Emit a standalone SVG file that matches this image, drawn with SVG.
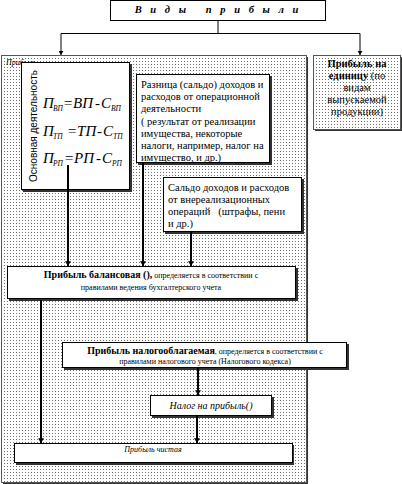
<svg xmlns="http://www.w3.org/2000/svg" width="402" height="484" viewBox="0 0 402 484">
<defs>
<pattern id="dots" width="3" height="3" patternUnits="userSpaceOnUse">
<rect width="3" height="3" fill="#ffffff"/>
<rect x="1" y="1" width="1" height="1" fill="#6e6e6e"/>
</pattern>
<marker id="ah" viewBox="0 0 8 10" refX="8" refY="5" markerWidth="4" markerHeight="5" markerUnits="userSpaceOnUse" orient="auto">
<path d="M0,0 L8,5 L0,10 z" fill="#000"/>
</marker>
<marker id="ahb" viewBox="0 0 8 10" refX="8" refY="5" markerWidth="5" markerHeight="6" markerUnits="userSpaceOnUse" orient="auto">
<path d="M0,0 L8,5 L0,10 z" fill="#000"/>
</marker>
</defs>
<style>
.box{fill:#fff;stroke:#000;stroke-width:1}
.dot{fill:url(#dots);stroke:#555;stroke-width:1}
.sh{fill:#333}
.ser{font-family:"Liberation Serif","Times New Roman",serif;fill:#000}
.t{font-size:10.5px}
.small{font-size:8px}
.b{font-weight:bold}
.it{font-style:italic}
.fm{font-family:"Liberation Serif","Times New Roman",serif;font-style:italic;font-size:15px;fill:#000}
.sub{font-size:7.5px}
.ln{stroke:#000;stroke-width:1;fill:none}
.lnb{stroke:#000;stroke-width:2;fill:none}
</style>

<g id="title">
<rect class="box" x="110.5" y="0.5" width="215" height="20"/>
<text class="ser b it" x="218" y="13" font-size="10.5" text-anchor="middle" letter-spacing="3" xml:space="preserve">В и д ы   п р и б ы л и</text>
</g>

<g id="left-panel">
<rect class="sh" x="3" y="57" width="305" height="427"/>
<rect class="dot" x="1.5" y="55.5" width="305" height="427"/>
<text class="ser it" x="6" y="65" font-size="8">Прибыль</text>
</g>

<g id="right-panel">
<rect class="sh" x="315" y="57" width="87" height="74"/>
<rect class="dot" x="313.5" y="55.5" width="87" height="74"/>
<text class="ser t" x="357" y="67" text-anchor="middle"><tspan class="b">Прибыль на</tspan></text>
<text class="ser t" x="357" y="79" text-anchor="middle"><tspan class="b">единицу</tspan> (по</text>
<text class="ser t" x="357" y="91" text-anchor="middle">видам</text>
<text class="ser t" x="357" y="103" text-anchor="middle">выпускаемой</text>
<text class="ser t" x="357" y="115" text-anchor="middle">продукции)</text>
</g>

<g id="main-activity">
<rect class="sh" x="23" y="64" width="109" height="128"/>
<rect class="box" x="21.5" y="62.5" width="108" height="127"/>
<text font-family="Liberation Sans, Arial, sans-serif" font-size="10.5" textLength="112" lengthAdjust="spacingAndGlyphs" transform="translate(37,182) rotate(-90)">Основная деятельность</text>
<text class="fm"><tspan x="43" y="108">П</tspan><tspan class="sub" x="53" y="111">ВП</tspan><tspan x="63" y="108">=ВП</tspan><tspan x="95" y="108">-</tspan><tspan x="101" y="108">С</tspan><tspan class="sub" x="111" y="111">ВП</tspan></text>
<text class="fm"><tspan x="43" y="136">П</tspan><tspan class="sub" x="53" y="139">ТП</tspan><tspan x="67" y="136">=ТП</tspan><tspan x="97" y="136">-</tspan><tspan x="103" y="136">С</tspan><tspan class="sub" x="113" y="139">ТП</tspan></text>
<text class="fm"><tspan x="43" y="163">П</tspan><tspan class="sub" x="53" y="166">РП</tspan><tspan x="64" y="163">=РП</tspan><tspan x="96" y="163">-</tspan><tspan x="102" y="163">С</tspan><tspan class="sub" x="112" y="166">РП</tspan></text>
</g>

<g id="operational">
<rect class="sh" x="138" y="76" width="134" height="89"/>
<rect class="box" x="136.5" y="74.5" width="133" height="88"/>
<text class="ser t" x="141" y="88">Разница (сальдо) доходов и</text>
<text class="ser t" x="141" y="100">расходов от операционной</text>
<text class="ser t" x="141" y="112">деятельности</text>
<text class="ser t" x="141" y="125">( результат от реализации</text>
<text class="ser t" x="141" y="137">имущества, некоторые</text>
<text class="ser t" x="141" y="149">налоги, например, налог на</text>
<text class="ser t" x="141" y="161">имущество, и др.)</text>
</g>

<g id="nonoperational">
<rect class="sh" x="165" y="179" width="139" height="55"/>
<rect class="box" x="163.5" y="177.5" width="138" height="54"/>
<text class="ser t" x="168" y="191">Сальдо доходов и расходов</text>
<text class="ser t" x="168" y="203">от внереализационных</text>
<text class="ser t" x="168" y="215" xml:space="preserve">операций   (штрафы, пени</text>
<text class="ser t" x="168" y="227">и др.)</text>
</g>

<g id="balance-profit">
<rect class="sh" x="9" y="268" width="289" height="33"/>
<rect class="box" x="7.5" y="266.5" width="288" height="32"/>
<text class="ser" x="151" y="278" text-anchor="middle"><tspan class="b" font-size="10">Прибыль балансовая (),</tspan><tspan font-size="8"> определяется в соответствии с</tspan></text>
<text class="ser small" x="151" y="290" text-anchor="middle">правилами ведения бухгалтерского учета</text>
</g>

<g id="taxable-profit">
<rect class="sh" x="64" y="344" width="285" height="26"/>
<rect class="box" x="62.5" y="342.5" width="284" height="25"/>
<text class="ser" x="205" y="354" text-anchor="middle"><tspan class="b" font-size="10">Прибыль налогооблагаемая</tspan><tspan font-size="8">, определяется в соответствии с</tspan></text>
<text class="ser small" x="205" y="364" text-anchor="middle">правилами налогового учета (Налогового кодекса)</text>
</g>

<g id="tax">
<rect class="sh" x="152" y="397" width="122" height="21"/>
<rect class="box" x="150.5" y="395.5" width="121" height="20"/>
<text class="ser it" x="211" y="409" font-size="10" text-anchor="middle">Налог на прибыль()</text>
</g>

<g id="net-profit">
<rect class="sh" x="16" y="445" width="278" height="20"/>
<rect class="box" x="14.5" y="443.5" width="278" height="19"/>
<text class="ser it small" x="153" y="452" text-anchor="middle">Прибыль чистая</text>
</g>

<g id="connectors">
<path class="ln" d="M218,21 V33.5 M61,33.5 H360"/>
<path class="ln" d="M61,33.5 V55" marker-end="url(#ah)"/>
<path class="ln" d="M360,33.5 V55" marker-end="url(#ah)"/>
<path class="lnb" d="M68,165 V266" marker-end="url(#ahb)"/>
<path class="lnb" d="M143,163 V266" marker-end="url(#ahb)"/>
<path class="lnb" d="M191,232 V266" marker-end="url(#ahb)"/>
<path class="lnb" d="M41,300 V443" marker-end="url(#ahb)"/>
<path class="lnb" d="M198,368 V395" marker-end="url(#ahb)"/>
<path class="lnb" d="M197,416 V443" marker-end="url(#ahb)"/>
</g>
</svg>
